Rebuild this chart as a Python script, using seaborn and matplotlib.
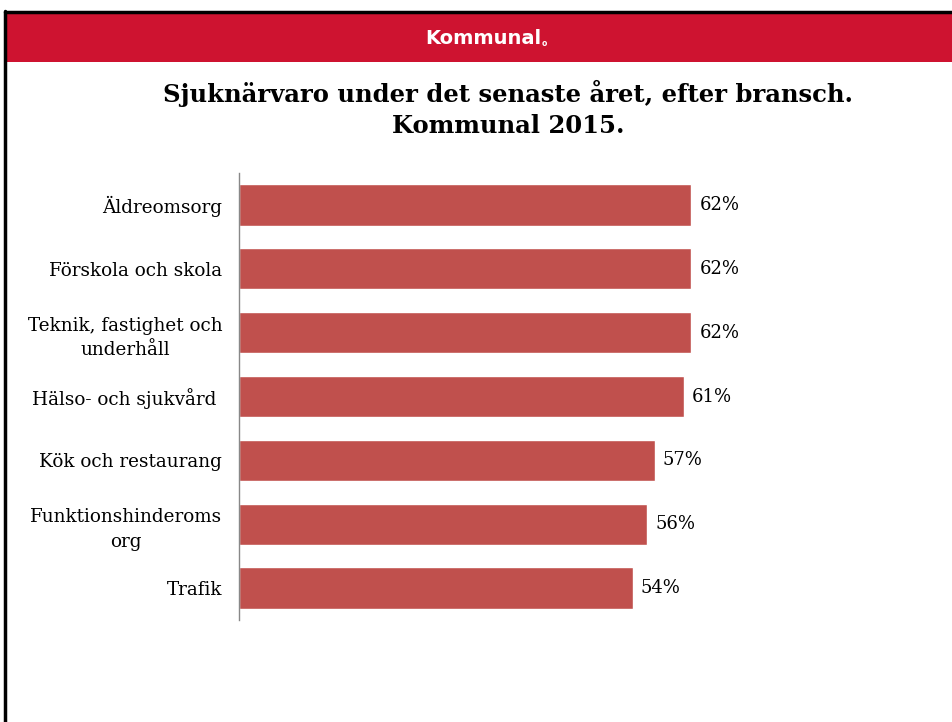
import matplotlib
matplotlib.use("Agg")
import matplotlib.pyplot as plt
import seaborn as sns
import pandas as pd
from matplotlib.patches import Rectangle
from matplotlib.lines import Line2D

categories = ["Äldreomsorg", "Förskola och skola", "Teknik, fastighet och\nunderhåll",
              "Hälso- och sjukvård ", "Kök och restaurang", "Funktionshinderoms\norg", "Trafik"]
values = [62, 62, 62, 61, 57, 56, 54]
value_labels = ["62%", "62%", "62%", "61%", "57%", "56%", "54%"]
title = "Sjuknärvaro under det senaste året, efter bransch.\nKommunal 2015."
brand = "Kommunal"

sns.set_theme(style="white")
plt.rcParams['font.family'] = ['DejaVu Serif']
plt.rcParams['text.color'] = 'black'

W, H = 953, 722
fig = plt.figure(figsize=(W/100, H/100), dpi=100)

# Frame and header band
fig.add_artist(Rectangle((6/W, 1-62/H), (W-6)/W, 49/H, transform=fig.transFigure,
                         facecolor="#CE1330", edgecolor="none", zorder=0))
fig.add_artist(Line2D([5/W, 1], [1-12/H, 1-12/H], transform=fig.transFigure, color="black", lw=2.5))
fig.add_artist(Line2D([5.5/W, 5.5/W], [0, 1-11/H], transform=fig.transFigure, color="black", lw=2.5))
fig.text(483/W, 1-38/H, brand, color="white", fontsize=14, fontweight="bold",
         family="DejaVu Sans", ha="center", va="center")
fig.text(542/W, 1-43/H, "o", color="white", fontsize=5.5, fontweight="bold",
         family="DejaVu Sans", ha="left", va="center")

fig.text(508/W, 1-109/H, title, fontsize=17.5, fontweight="heavy", ha="center", va="center",
         linespacing=1.4, family="DejaVu Serif", color="black")

ax = fig.add_axes([239/W, 1-620/H, 661/W, 447/H])
df = pd.DataFrame({"cat": categories, "val": values})
sns.barplot(data=df, y="cat", x="val", orient="h", color="#C0504D", saturation=1,
            width=0.645, ax=ax)
ax.set_xlim(0, 661/7.29)
ax.set_ylim(6.5, -0.5)
for s in ["top", "right", "bottom"]:
    ax.spines[s].set_visible(False)
ax.spines["left"].set_color("#888888")
ax.spines["left"].set_linewidth(1)
ax.set_xticks([])
ax.set_xlabel("")
ax.set_ylabel("")
ax.tick_params(axis="y", length=0, pad=12)
for lbl in ax.get_yticklabels():
    lbl.set_fontsize(13.2)
    lbl.set_multialignment("center")
    lbl.set_linespacing(1.45)
    lbl.set_color("black")
for i, (v, t) in enumerate(zip(values, value_labels)):
    ax.annotate(t, (v, i), xytext=(6, 0), textcoords="offset points",
                ha="left", va="center", fontsize=13, color="black")

fig.savefig("out.png", dpi=100)
